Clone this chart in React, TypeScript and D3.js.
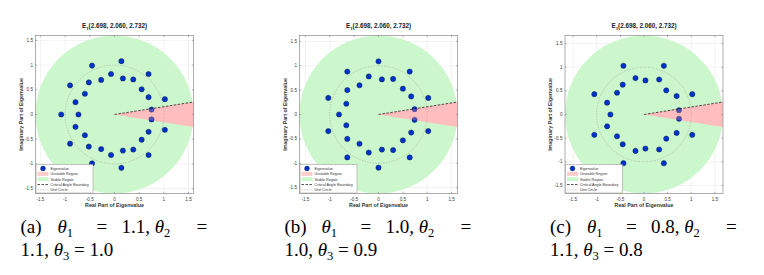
import React from "react";
import * as d3 from "d3";

const eigA: [number, number][] = [
  [-0.455, 0.99], [0.14, 1.08], [0.69, 0.82], [-0.07, 0.82], [0.17, 0.73],
  [0.38, 0.71], [-0.27, 0.7], [-0.52, 0.65], [-0.9, 0.59], [0.55, 0.51],
  [-0.6, 0.42], [0.69, 0.35], [1.02, 0.31], [-0.79, 0.25], [0.75, 0.1],
  [-1.08, 0], [-0.73, 0],
  [-0.455, -0.99], [0.14, -1.08], [0.69, -0.82], [-0.07, -0.82], [0.17, -0.73],
  [0.38, -0.71], [-0.27, -0.7], [-0.52, -0.65], [-0.9, -0.59], [0.55, -0.51],
  [-0.6, -0.42], [0.69, -0.35], [1.02, -0.31], [-0.79, -0.25], [0.75, -0.1],
];

const eigB: [number, number][] = [
  [0, 1.09], [-0.64, 0.88], [0.64, 0.88], [-0.2, 0.78], [0.07, 0.72],
  [0.3, 0.73], [-0.39, 0.6], [0.5, 0.53], [-0.64, 0.5], [-1.03, 0.34],
  [0.67, 0.37], [1.02, 0.34], [-0.66, 0.22], [0.74, 0.11],
  [-0.81, 0],
  [0, -1.09], [-0.64, -0.88], [0.64, -0.88], [-0.2, -0.78], [0.07, -0.72],
  [0.3, -0.73], [-0.39, -0.6], [0.5, -0.53], [-0.64, -0.5], [-1.03, -0.34],
  [0.67, -0.37], [1.02, -0.34], [-0.66, -0.22], [0.74, -0.11],
];

const eigC: [number, number][] = [
  [-0.435, 1.03], [0.42, 1.03], [-0.18, 0.77], [0.03, 0.72], [0.32, 0.74],
  [-0.45, 0.63], [-0.57, 0.46], [0.47, 0.51], [-1.05, 0.43], [1.02, 0.43],
  [0.69, 0.39], [-0.78, 0.25], [0.74, 0.09],
  [-0.71, 0],
  [-0.435, -1.03], [0.42, -1.03], [-0.18, -0.77], [0.03, -0.72], [0.32, -0.74],
  [-0.45, -0.63], [-0.57, -0.46], [0.47, -0.51], [-1.05, -0.43], [1.02, -0.43],
  [0.69, -0.39], [-0.78, -0.25], [0.74, -0.09],
];

const axisLimits = [1.6, 1.62, 1.67];
const stableRadius = [1.6, 1.62, 1.67];
const criticalAngleDeg = 9;
const ticks = [-1.5, -1, -0.5, 0, 0.5, 1, 1.5];
const titleArgs = "(2.698, 2.060, 2.732)";
const legendLabels = ["Eigenvalue", "Unstable Region", "Stable Region", "Critical Angle Boundary", "Unit Circle"];

const captionTags = ["(a)", "(b)", "(c)"];
const theta1 = ["1.1", "1.0", "0.8"];
const theta2 = ["1.1", "1.0", "1.1"];
const theta3 = ["1.0", "0.9", "0.8"];

const panels = [eigA, eigB, eigC];
const panelLeft = [35.5, 299.5, 565];
const top = 35.5;
const size = 158;
const sans = "Arial, 'Liberation Sans', sans-serif";
const serif = "Liberation Serif";

function Panel({ i }: { i: number }) {
  const lim = axisLimits[i];
  const left = panelLeft[i];
  const x = d3.scaleLinear().domain([-lim, lim]).range([left, left + size]);
  const y = d3.scaleLinear().domain([-lim, lim]).range([top + size, top]);
  const k = x(1) - x(0);
  const a = (criticalAngleDeg * Math.PI) / 180;
  const far = lim * 3;
  const wedge = d3.line()([
    [x(0), y(0)],
    [x(far * Math.cos(a)), y(far * Math.sin(a))],
    [x(far * Math.cos(a)), y(-far * Math.sin(a))],
  ]) as string;
  const clip = `clip${i}`;
  const bottom = top + size;
  const lg = { x: left + 0.5, y: bottom - 29, w: 57, h: 28.5 };
  const rowY = (r: number) => lg.y + 4 + r * 5.35;

  return (
    <g>
      <defs>
        <clipPath id={clip}>
          <rect x={left} y={top} width={size} height={size} />
        </clipPath>
      </defs>
      <rect x={left} y={top} width={size} height={size} fill="#fff" />
      {ticks.map((t) => (
        <g key={t}>
          <line x1={x(t)} x2={x(t)} y1={top} y2={bottom} stroke="#e6e6e6" strokeWidth={0.5} />
          <line x1={left} x2={left + size} y1={y(t)} y2={y(t)} stroke="#e6e6e6" strokeWidth={0.5} />
        </g>
      ))}
      <g clipPath={`url(#${clip})`}>
        <circle cx={x(0)} cy={y(0)} r={stableRadius[i] * k} fill="#ccf7cc" />
        <path d={wedge} fill="#ffcccc" />
        <circle cx={x(0)} cy={y(0)} r={k} fill="none" stroke="#9a9a9a" strokeWidth={0.5} strokeDasharray="1.5,1.2" />
        {panels[i].map(([re, im], j) => (
          <circle key={j} cx={x(re)} cy={y(im)} r={2.6} fill="#0033cc" stroke="#001a55" strokeWidth={0.5} />
        ))}
        <path d={wedge} fill="#ff9a9a" opacity={0.3} />
        <path d={wedge} fill="none" stroke="#222" strokeWidth={0.8} strokeDasharray="2.5,1.5" />
      </g>
      <rect x={left} y={top} width={size} height={size} fill="none" stroke="#8c8c8c" strokeWidth={0.7} />
      {ticks.map((t) => (
        <g key={`t${t}`} stroke="#555" strokeWidth={0.4}>
          <line x1={x(t)} x2={x(t)} y1={bottom} y2={bottom - 1.6} />
          <line x1={x(t)} x2={x(t)} y1={top} y2={top + 1.6} />
          <line x1={left} x2={left + 1.6} y1={y(t)} y2={y(t)} />
          <line x1={left + size} x2={left + size - 1.6} y1={y(t)} y2={y(t)} />
        </g>
      ))}
      {ticks.map((t) => (
        <g key={`l${t}`} fontFamily={sans} fontSize={4.6} fill="#3a3a3a">
          <text x={x(t)} y={bottom + 7} textAnchor="middle">{t}</text>
          <text x={left - 2.5} y={y(t) + 1.6} textAnchor="end">{t}</text>
        </g>
      ))}
      <text x={left + size / 2} y={bottom + 13.7} textAnchor="middle" fontFamily={sans} fontSize={5.3} fontWeight="bold" fill="#333">
        Real Part of Eigenvalue
      </text>
      <text
        transform={`translate(${left - 13},${(top + bottom) / 2}) rotate(-90)`}
        textAnchor="middle"
        fontFamily={sans}
        fontSize={5.3}
        fontWeight="bold"
        fill="#333"
      >
        Imaginary Part of Eigenvalue
      </text>
      <text x={left + size / 2} y={top - 7.5} textAnchor="middle" fontFamily={sans} fontSize={6.3} fontWeight="bold" fill="#222">
        E<tspan fontSize={4.4} dy={1.6}>1</tspan>
        <tspan dy={-1.6}>{titleArgs}</tspan>
      </text>
      <g>
        <rect x={lg.x} y={lg.y} width={lg.w} height={lg.h} fill="#fff" stroke="#8c8c8c" strokeWidth={0.5} />
        <circle cx={lg.x + 7} cy={rowY(0)} r={2.4} fill="#0033cc" stroke="#001a55" strokeWidth={0.5} />
        <rect x={lg.x + 1.5} y={rowY(1) - 2} width={11} height={4} fill="#ffcccc" />
        <rect x={lg.x + 1.5} y={rowY(2) - 2} width={11} height={4} fill="#ccf7cc" />
        <line x1={lg.x + 1.5} x2={lg.x + 12.5} y1={rowY(3)} y2={rowY(3)} stroke="#222" strokeWidth={0.8} strokeDasharray="2.5,1.5" />
        <line x1={lg.x + 1.5} x2={lg.x + 12.5} y1={rowY(4)} y2={rowY(4)} stroke="#9a9a9a" strokeWidth={0.5} strokeDasharray="1.5,1.2" />
        {legendLabels.map((s, r) => (
          <text key={s} x={lg.x + 14.5} y={rowY(r) + 1.3} fontFamily={sans} fontSize={3.7} fill="#333">
            {s}
          </text>
        ))}
      </g>
    </g>
  );
}

function Caption({ i }: { i: number }) {
  const x0 = panelLeft[i] + size / 2 - 94;
  const y1 = 233;
  const y2 = 256;
  const th = (n: number, after: string) => (
    <>
      <tspan fontStyle="italic">θ</tspan>
      <tspan fontSize={12.5} dy={3.5}>{n}</tspan>
      {after && <tspan dy={-3.5}>{after}</tspan>}
    </>
  );
  return (
    <g style={{ fontFamily: "'Liberation Serif', 'DejaVu Serif', serif" }} fontSize={19} fill="#000">
      <text x={x0} y={y1}>{captionTags[i]}</text>
      <text x={x0 + 37} y={y1}>{th(1, "")}</text>
      <text x={x0 + 76} y={y1}>=</text>
      <text x={x0 + 101} y={y1}>
        {theta1[i] + ", "}
        {th(2, "")}
      </text>
      <text x={x0 + 176} y={y1}>=</text>
      <text x={x0} y={y2}>
        {theta2[i] + ", "}
        {th(3, ` = ${theta3[i]}`)}
      </text>
    </g>
  );
}

export default function App() {
  return (
    <svg width={764} height={275} style={{ position: "absolute", left: 0, top: 0, background: "#fff" }}>
      {[0, 1, 2].map((i) => (
        <g key={i}>
          <Panel i={i} />
          <Caption i={i} />
        </g>
      ))}
    </svg>
  );
}
